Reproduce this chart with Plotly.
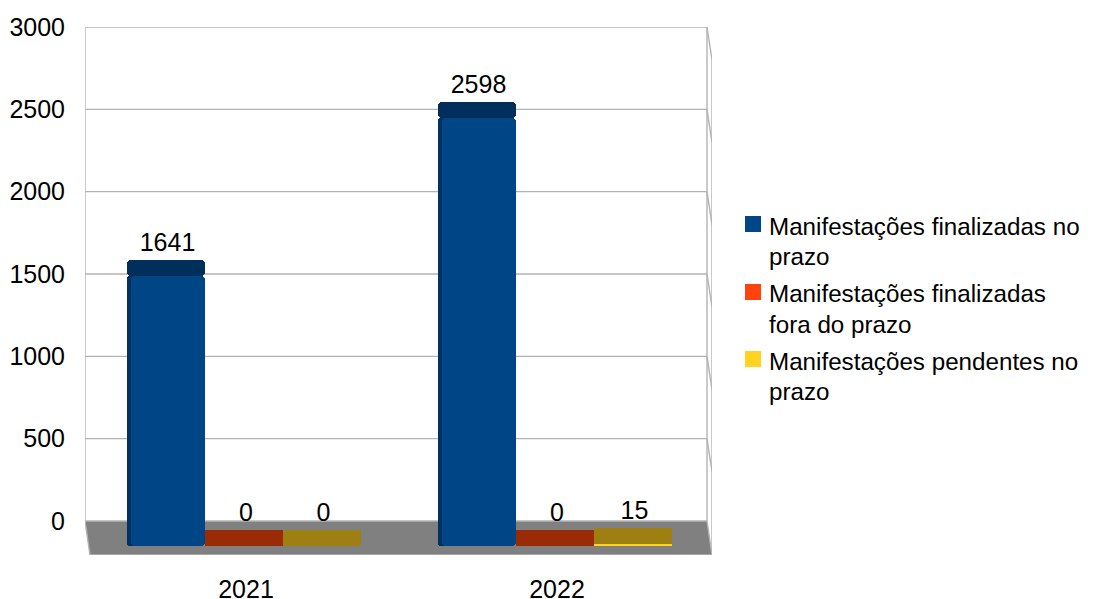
import plotly.graph_objects as go

years = [2021, 2022]
series_names = [
    ["Manifestações finalizadas no", "prazo"],
    ["Manifestações finalizadas", "fora do prazo"],
    ["Manifestações pendentes no", "prazo"],
]
finalizadas_no_prazo = [1641, 2598]
finalizadas_fora_prazo = [0, 0]
pendentes_no_prazo = [0, 15]
y_ticks = [0, 500, 1000, 1500, 2000, 2500, 3000]

W, H = 1110, 599
PL, PR, PT, PB = 85, 712, 27, 555
UNIT = (521 - 27) / 3000            # px per value unit
XU = 311                            # px per category
X0 = 246                            # px of 2021
xr = [2021 + (PL - X0) / XU, 2021 + (PR - X0) / XU]
yr = [-(PB - 521) / UNIT, 3000]
def px(p): return 2021 + (p - X0) / XU
def py(p): return (521 - p) / UNIT
def pfx(p): return (p - PL) / (PR - PL)
def pfy(p): return (PB - p) / (PB - PT)

FRONT = -25 / UNIT                  # front-face baseline
CAP = 16 / UNIT                     # cap height
LABEL_LIFT = 2.5 / UNIT
BW = 78 / XU
series = [finalizadas_no_prazo, finalizadas_fora_prazo, pendentes_no_prazo]
offsets = [-80.5 / XU, -2 / XU, 75.5 / XU]
legend_cols = ["#004586", "#ff420e", "#ffd320"]
front_cols = ["#004586", "#9b2a07", "#ffd320"]
cap_cols = ["#002f5c", "#9b2a07", "#9e8012"]
cap_radius = [4, 0, 2]
front_radius = [4, 0, 0]
side_col = "#003261"
grid = "#b3b3b3"

fig = go.Figure()
shapes = []
annotations = []
def line(x0, y0, x1, y1, c=grid, w=1.4):
    shapes.append(dict(type="line", xref="x", yref="y", x0=px(x0), x1=px(x1), y0=py(y0), y1=py(y1),
                       line=dict(color=c, width=w), layer="below"))
# floor
shapes.append(dict(type="path", xref="x", yref="y", layer="below", fillcolor="#808080",
                   line=dict(color="#808080", width=0),
                   path=f"M {px(85)} {py(521)} L {px(707)} {py(521)} L {px(712)} {py(555)} L {px(90)} {py(555)} Z"))
for t in y_ticks:
    p = 521 - t * UNIT
    line(85, p, 707, p)
    if t > 0:
        line(707, p, 712, p + 33)
line(85, 27, 85, 521)
line(707, 27, 707, 521)
line(712, 60, 712, 555)
line(85, 521, 90, 555)
line(707, 521, 712, 555)
line(90, 555, 712, 555)

# dark left side of tall bars, drawn under the front faces
fig.add_trace(go.Bar(x=[y + offsets[0] - 35 / XU for y in years], y=[-v for v in finalizadas_no_prazo],
                     base=[v + FRONT for v in finalizadas_no_prazo], width=8 / XU, showlegend=False,
                     hoverinfo="skip", marker=dict(color=side_col, line=dict(width=0), cornerradius=3)))

for i, vals in enumerate(series):
    xs = [y + offsets[i] for y in years]
    fx = xs if i else [x + 2 / XU for x in xs]
    fw = BW if i else BW - 4 / XU
    # front faces: drawn downward so the rounded end is at the bottom
    fig.add_trace(go.Bar(x=fx, y=[-v for v in vals], base=[v + FRONT for v in vals], width=fw,
                         showlegend=False, hoverinfo="skip", name=" ".join(series_names[i]),
                         marker=dict(color=front_cols[i], line=dict(width=0), cornerradius=front_radius[i])))
    # top caps
    fig.add_trace(go.Bar(x=xs, y=[CAP] * 2, base=[v + FRONT for v in vals], width=BW,
                         showlegend=False, hoverinfo="skip",
                         marker=dict(color=cap_cols[i], line=dict(width=0), cornerradius=cap_radius[i])))

# value labels
for i, vals in enumerate(series):
    fig.add_trace(go.Scatter(x=[y + offsets[i] + 2 / XU for y in years],
                             y=[v + FRONT + CAP + LABEL_LIFT for v in vals], text=[str(v) for v in vals],
                             mode="text", textposition="top center", showlegend=False, hoverinfo="skip",
                             cliponaxis=False,
                             textfont=dict(size=25, color="black", family="Liberation Sans")))

# legend, positioned as in the reference (marker beside the first text line)
legend_tops = [216, 284, 351]
for i, lines in enumerate(series_names):
    top = legend_tops[i]
    shapes.append(dict(type="rect", xref="paper", yref="paper", x0=pfx(745), x1=pfx(761),
                       y0=pfy(top), y1=pfy(top + 16), fillcolor=legend_cols[i], line=dict(width=0)))
    for j, txt in enumerate(lines):
        annotations.append(dict(xref="paper", yref="paper", x=pfx(768), y=pfy(top + 10 + 30 * j),
                                xanchor="left", yanchor="middle", showarrow=False, text=txt,
                                borderpad=0, font=dict(size=24.2, color="black", family="Liberation Sans")))

fig.update_layout(
    width=W, height=H, autosize=False, barmode="overlay", bargap=0,
    paper_bgcolor="white", plot_bgcolor="rgba(0,0,0,0)",
    margin=dict(l=PL, r=W - PR, t=PT, b=H - PB, pad=0, autoexpand=False),
    font=dict(family="Liberation Sans", size=25, color="black"),
    shapes=shapes, annotations=annotations,
    showlegend=False,
    xaxis=dict(range=xr, tickvals=years, ticktext=[str(y) for y in years], showgrid=False, zeroline=False,
               showline=False, ticks="", ticklabelstandoff=17, tickfont=dict(size=25)),
    yaxis=dict(range=yr, tickvals=y_ticks, showgrid=False, zeroline=False, showline=False, ticks="",
               ticklabelstandoff=19, tickfont=dict(size=25)),
)
fig.write_html("out.html", post_script="document.body.style.margin='0';",
               config={"displayModeBar": False})
